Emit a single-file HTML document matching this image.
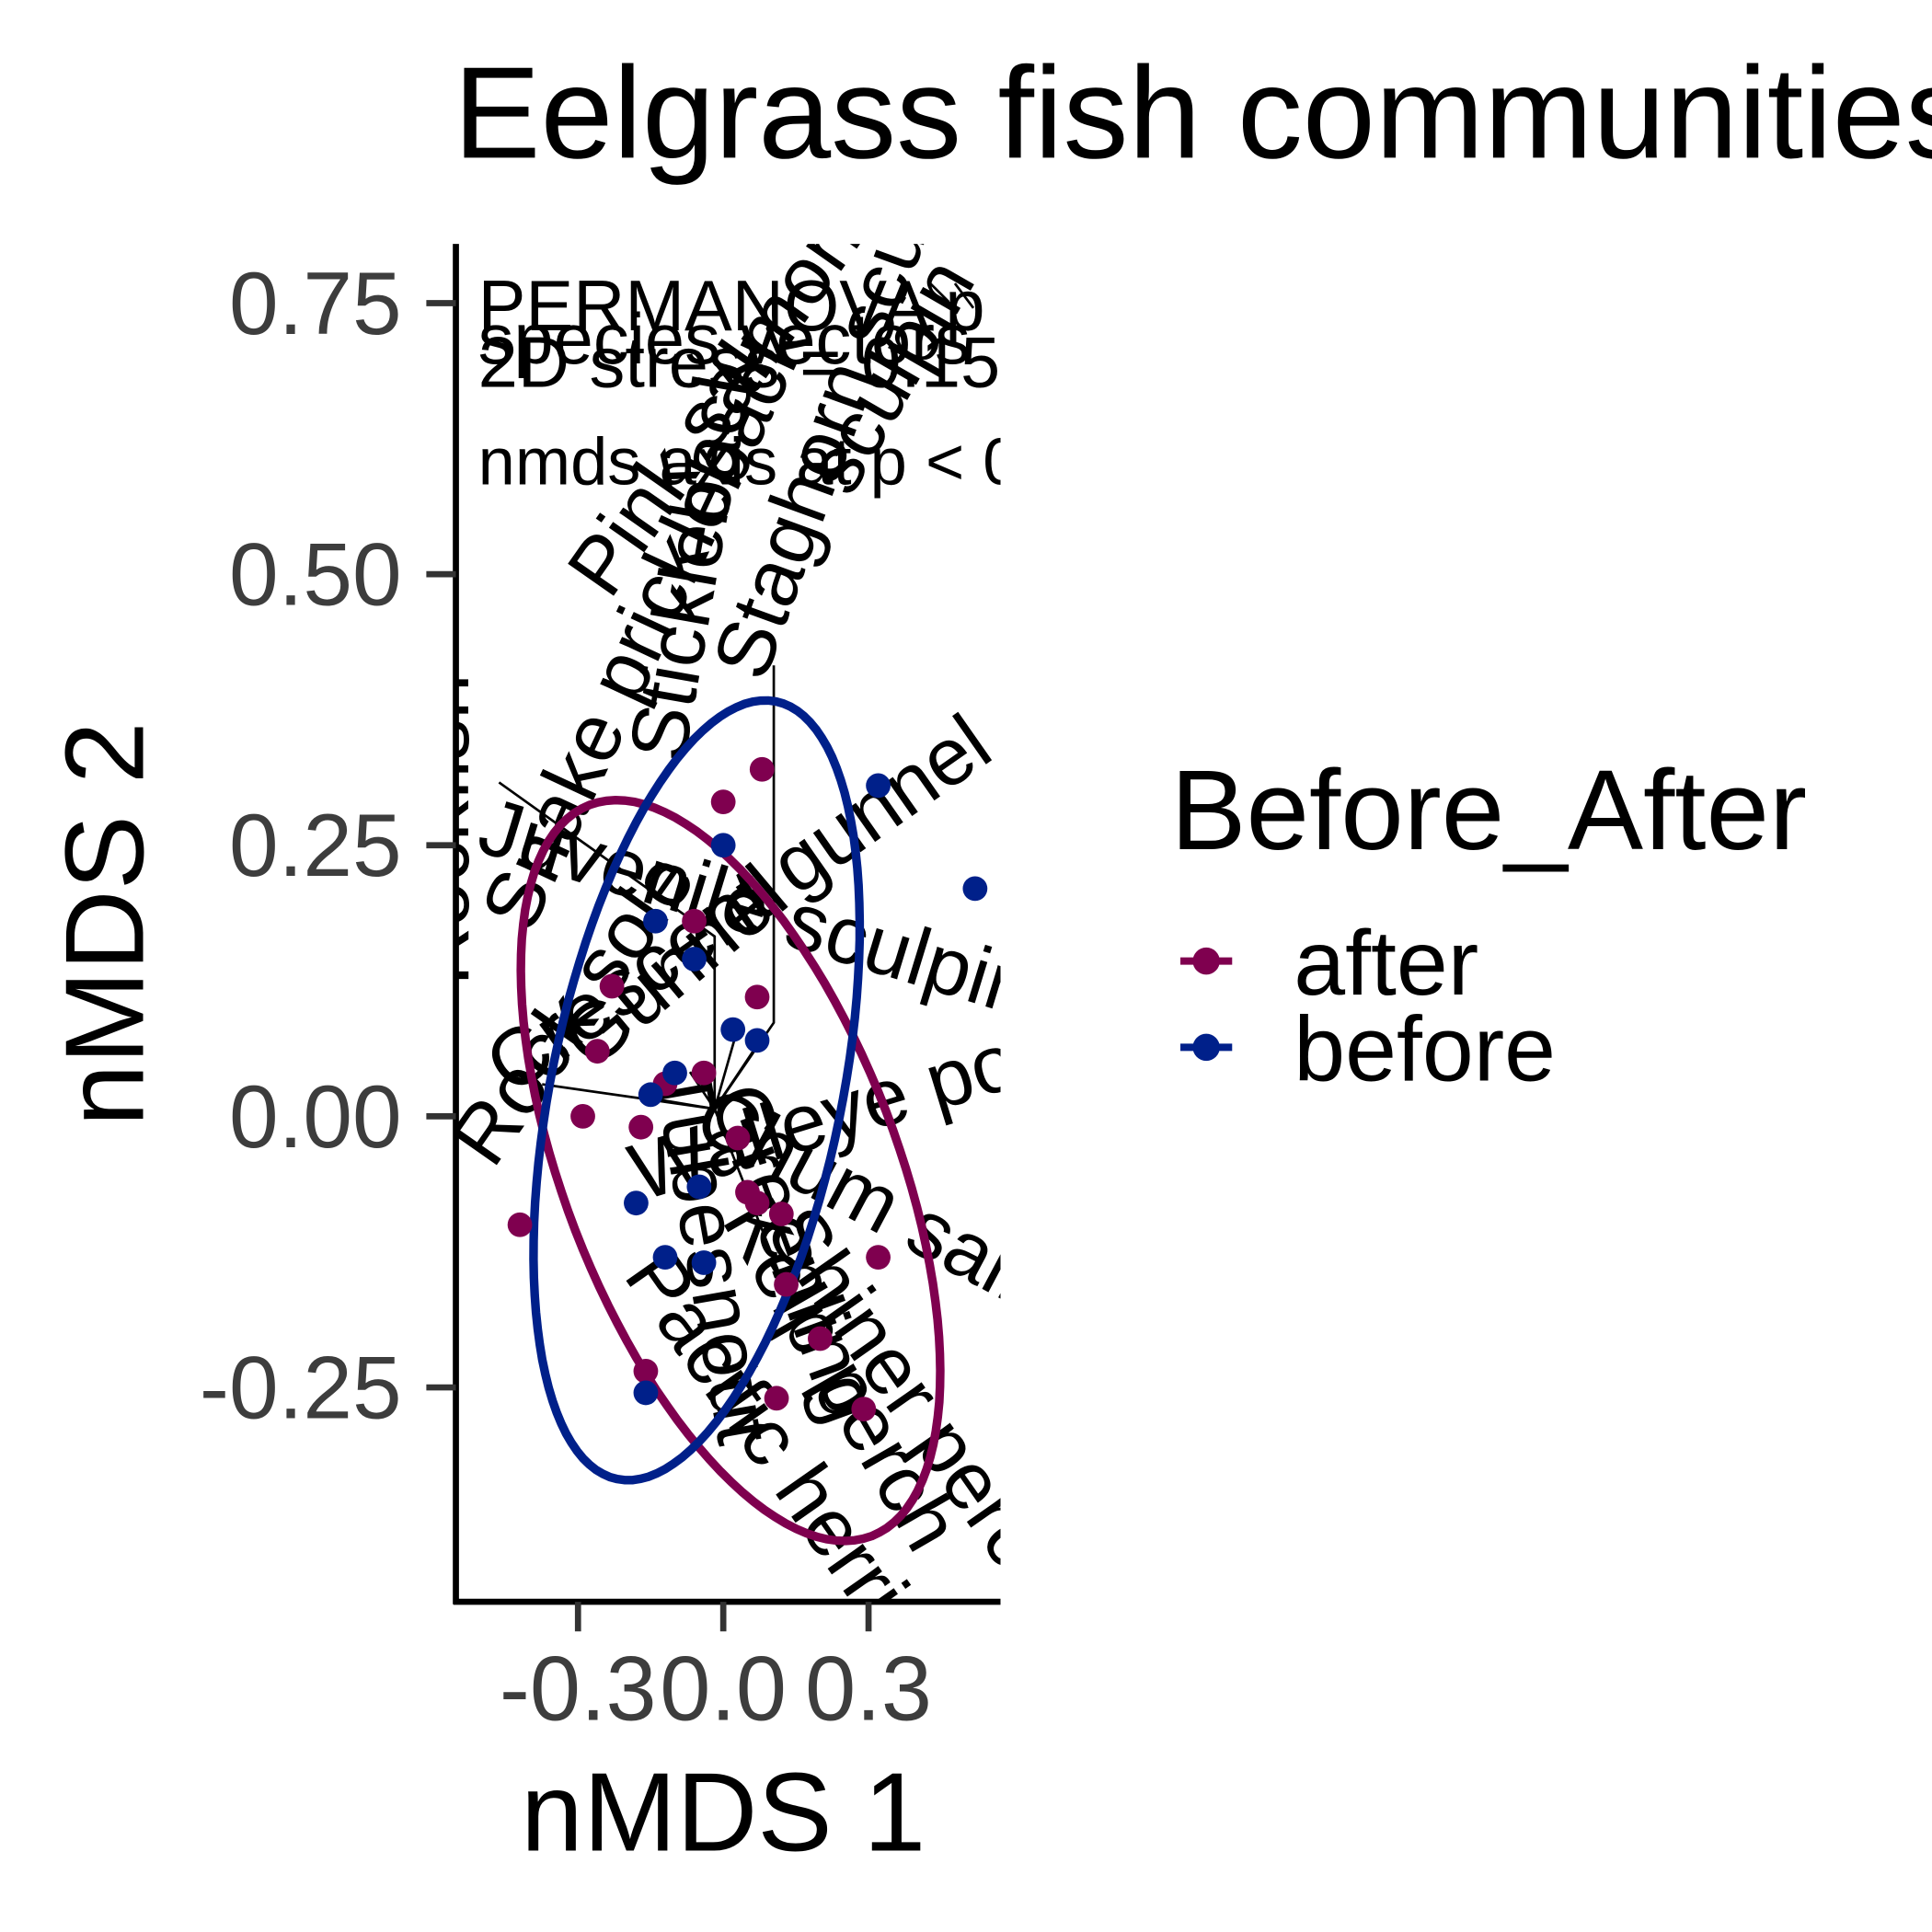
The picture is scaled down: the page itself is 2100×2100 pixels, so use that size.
<!DOCTYPE html>
<html><head><meta charset="utf-8"><style>
html,body{margin:0;padding:0;background:#fff;width:2100px;height:2100px;overflow:hidden}
svg{display:block;font-family:"Liberation Sans",Arial,sans-serif}
</style></head><body>
<svg id="chart" width="2100" height="2100" viewBox="0 0 1568 1568" xmlns="http://www.w3.org/2000/svg">
<defs><clipPath id="panel"><rect x="370" y="198" width="442" height="1102"/></clipPath></defs>
<text x="368" y="128" font-size="106">Eelgrass fish communities before and after</text>
<g id="panelg" clip-path="url(#panel)">
  <g font-size="58">
    <text x="388" y="268">PERMANOVA p = 0.001</text>
    <text x="388" y="295">species vectors</text>
    <text x="388" y="314">2D stress = 0.15</text>
    <text x="388" y="393" font-size="54">nmds axis at p &lt; 0.05</text>
  </g>
  <g id="vectors" stroke="#000" stroke-width="2" fill="none">
    <path d="M628,540 L628,830 L580,900"/>
    <path d="M405,635 L580,760 L580,900"/>
    <path d="M580,900 L560,870 M580,900 L600,830 M580,900 L620,840 M580,900 L635,1040 M580,900 L520,890 M580,900 L440,880"/>
    <path d="M755,230 L770,245 M775,230 L790,250"/>
  </g>
  <g id="labels" font-size="66"></g>
  <g id="ellipses"></g>
  <g id="points"></g>
</g>
<line x1="370" y1="198" x2="370" y2="1302" stroke="#000" stroke-width="5"/>
<line x1="368" y1="1300" x2="812" y2="1300" stroke="#000" stroke-width="5"/>
<g id="yaxis"></g><g id="xaxis"></g>
<text x="587" y="1502" font-size="91" text-anchor="middle">nMDS 1</text>
<text transform="translate(116,750) rotate(-90)" font-size="91" text-anchor="middle">nMDS 2</text>
<g>
  <text x="950" y="689" font-size="92">Before_After</text>
  <g>
    <line x1="958" y1="780" x2="1000" y2="780" stroke="#7f004f" stroke-width="6"/>
    <circle cx="979" cy="780" r="11" fill="#7f004f"/>
    <text x="1050" y="807" font-size="75">after</text>
  </g>
  <g>
    <line x1="958" y1="850" x2="1000" y2="850" stroke="#00208a" stroke-width="6"/>
    <circle cx="979" cy="850" r="11" fill="#00208a"/>
    <text x="1050" y="877" font-size="75">before</text>
  </g>
</g>
</svg>
<script>
const yTicks=[0.75,0.5,0.25,0,-0.25];
const yTickLabels=["0.75","0.50","0.25","0.00","-0.25"];
const xTicks=[-0.3,0,0.3];
const xTickLabels=["-0.3","0.0","0.3"];
const afterX=[0.08,0.0,-0.06,0.07,-0.26,-0.04,-0.29,-0.17,0.03,0.07,0.12,-0.42,0.32,0.13,0.2,-0.16,0.11,0.29,-0.12,-0.23,0.05];
const afterY=[0.32,0.29,0.18,0.11,0.06,0.04,0.0,-0.01,-0.02,-0.08,-0.09,-0.1,-0.13,-0.155,-0.205,-0.235,-0.26,-0.27,0.03,0.12,-0.07];
const beforeX=[0.32,0.52,0.0,-0.14,-0.06,0.02,0.07,-0.15,-0.18,-0.12,-0.04,-0.16,-0.05,-0.1];
const beforeY=[0.305,0.21,0.25,0.18,0.145,0.08,0.07,0.02,-0.08,-0.13,-0.135,-0.255,-0.065,0.04];
const ellipseCX=[0.015,-0.055];
const ellipseCY=[-0.05,0.024];
// semi-axes and orientation (shape parameters, pixel-space)
const ellipseA=[318,322];
const ellipseB=[135,118];
const ellipseDir=[[0.36,0.933],[-0.2,0.98]];
const speciesNames=["Pink salmon","Chum salmon","sculpin","Juvenile sculpin","Walleye pollock","Shiner perch","Pacific herring","Rock sole","Stickleback","Staghorn sculpin","Greenling","Rockfish","Kelp perch","Snake prickleback","Tubesnout","Gunnel","Crescent gunnel"];
const sx=v=>587+v*393, sy=v=>906-v*880;
const NS="http://www.w3.org/2000/svg";
function mk(t,a,p){const e=document.createElementNS(NS,t);for(const k in a)e.setAttribute(k,a[k]);p.appendChild(e);return e;}
const ya=document.getElementById('yaxis');
yTicks.forEach((v,i)=>{
  const l=mk('line',{x1:346,x2:370,y1:sy(v),y2:sy(v),stroke:'#333','stroke-width':5},ya);
  
  
  const t=mk('text',{x:326,y:sy(v)+25,'font-size':72,'text-anchor':'end',fill:'#3d3d3d'},ya);
  t.textContent=yTickLabels[i];
  
  
});
const xa=document.getElementById('xaxis');
xTicks.forEach((v,i)=>{
  const l=mk('line',{x1:sx(v),x2:sx(v),y1:1300,y2:1324,stroke:'#333','stroke-width':5},xa);
  
  
  const t=mk('text',{x:sx(v),y:1396,'font-size':74,'text-anchor':'middle',fill:'#3d3d3d'},xa);
  t.textContent=xTickLabels[i];
  
  
});
const eg=document.getElementById('ellipses');
const ecol=['#7f004f','#00208a'];
for(let k=0;k<2;k++){
  const [ux,uy]=ellipseDir[k];const vx=-uy,vy=ux;let d='';
  const cx=sx(ellipseCX[k]), cy=sy(ellipseCY[k]);
  for(let i=0;i<=120;i++){const a=i/120*2*Math.PI;
    const u=ellipseA[k]*Math.cos(a), w=ellipseB[k]*Math.sin(a);
    const px=cx+u*ux+w*vx, py=cy+u*uy+w*vy;
    d+=(i?'L':'M')+px.toFixed(1)+','+py.toFixed(1);}
  const p=mk('path',{d:d+'Z',fill:'none',stroke:ecol[k],'stroke-width':7},eg);
  
  
}
const pg=document.getElementById('points');
afterX.forEach((x,i)=>{const c=mk('circle',{cx:sx(x),cy:sy(afterY[i]),r:10,fill:'#7f004f'},pg);
  
  });
beforeX.forEach((x,i)=>{const c=mk('circle',{cx:sx(x),cy:sy(beforeY[i]),r:10,fill:'#00208a'},pg);
  
  });
// label placements (pixel layout for text, not data)
const lab=[[495,488,-55],[560,920,28],[690,405,-60],[385,690,17],[520,975,-17],[620,1000,55],[505,1035,55],[400,950,-55],[555,620,-80],[620,555,-70],[575,890,70],[380,800,-90],[585,990,60],[430,760,-65],[530,870,80],[480,870,-40],[415,890,-35]];
const lg=document.getElementById('labels');
speciesNames.forEach((n,i)=>{const L=lab[i];
  const t=mk('text',{x:L[0],y:L[1],transform:`rotate(${L[2]} ${L[0]} ${L[1]})`},lg);
  t.textContent=n;
  
  });
</script>
</body></html>
